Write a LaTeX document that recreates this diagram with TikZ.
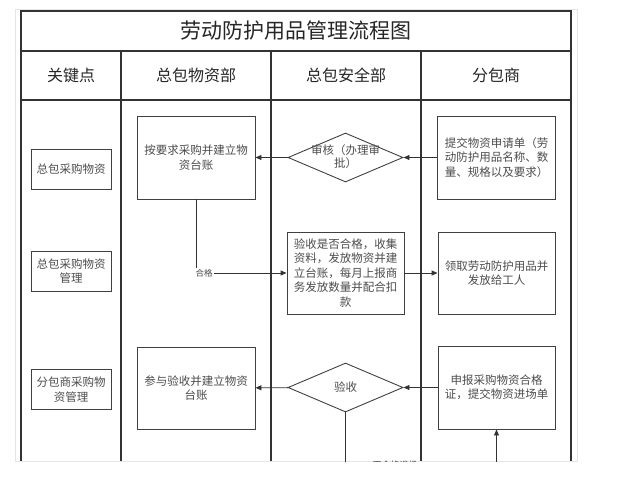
\documentclass[tikz,border=0pt]{standalone}
\usepackage{fontspec}
\setmainfont{Noto Sans CJK SC}
\usetikzlibrary{shapes.geometric,arrows.meta}

\begin{document}
\begin{tikzpicture}[x=1pt,y=-1pt]
    \tikzstyle{stepbox} = [rectangle, draw=black!75, line width=0.9pt, minimum width=118pt, minimum height=83pt, inner sep=0pt, align=center, text=black!70, font=\fontsize{11.5}{14.5}\selectfont]
    \tikzstyle{keybox} = [rectangle, draw=black!75, line width=0.9pt, minimum width=80pt, minimum height=40pt, inner sep=0pt, align=center, text=black!70, font=\fontsize{11.5}{14.5}\selectfont]
    \tikzstyle{check} = [diamond, draw=black!75, line width=0.9pt, minimum width=115pt, minimum height=49pt, inner sep=0pt]
    \tikzstyle{flow} = [draw=black!80, line width=0.9pt, -{Triangle[length=6pt,width=5pt]}]
    \tikzstyle{lane} = [draw=black!80, line width=1.1pt]
    \useasboundingbox (0,0) rectangle (620,476);
    \draw[black!10, line width=0.8pt] (15,9) rectangle (577,461);
    \begin{scope}
    \clip (0,0) rectangle (620,461);
    % swimlane table
    \draw[lane] (21,461) -- (21,11) -- (571,11) -- (571,461);
    \draw[lane] (21,51) -- (571,51);
    \draw[lane] (21,100) -- (571,100);
    \foreach \x in {121,271,421} \draw[lane] (\x,51) -- (\x,461);
    \node[font=\fontsize{21}{24}\selectfont, text=black!85] (title) at (296,31) {劳动防护用品管理流程图};
    \foreach \x/\t/\n in {71/关键点/hkey, 196/总包物资部/hmat, 346/总包安全部/hsafe, 496/分包商/hsub}
        \node[font=\fontsize{16}{19}\selectfont, text=black!85] (\n) at (\x,75.5) {\t};
    % key points
    \node[keybox] (k1) at (71,169) {总包采购物资};
    \node[keybox] (k2) at (71,271) {总包采购物资\\管理};
    \node[keybox] (k3) at (71,389.5) {分包商采购物\\资管理};
    % steps
    \node[stepbox] (buy) at (196,157.5) {按要求采购并建立物\\资台账};
    \node[stepbox] (apply) at (496.5,157.5) {提交物资申请单（劳\\动防护用品名称、数\\量、规格以及要求）};
    \node[check] (audit) at (345.5,157.5) {};
    \node[text=black!70, font=\fontsize{11.5}{13.5}\selectfont, align=center] (audittxt) at (345.5,156.5) {审核（办理审\\批）};
    \node[stepbox, minimum width=117pt, minimum height=82pt] (recv) at (345.5,273) {验收是否合格，收集\\资料，发放物资并建\\立台账，每月上报商\\务发放数量并配合扣\\款};
    \node[stepbox, minimum width=117pt, minimum height=82pt] (issue) at (496.5,273) {领取劳动防护用品并\\发放给工人};
    \node[stepbox, minimum height=82pt] (join) at (196,388) {参与验收并建立物资\\台账};
    \node[check] (accept) at (345.5,387.5) {};
    \node[text=black!70, font=\fontsize{11.5}{13.5}\selectfont] (accepttxt) at (345.5,387.5) {验收};
    \node[stepbox, minimum width=117pt] (report) at (496.5,387.5) {申报采购物资合格\\证，提交物资进场单};
    \node[text=black!70, font=\fontsize{9}{10}\selectfont] (reject) at (395,465) {不合格退场};
    \coordinate (acceptout) at (345.5,480);
    \coordinate (reportin) at (496.5,480);
    % connectors
    \draw[flow] (apply) -- (audit);
    \draw[flow] (audit) -- (buy);
    \draw[flow] (buy.south) |- node[pos=0.5, fill=white, inner sep=1pt, xshift=8pt, text=black!70, font=\fontsize{8.5}{9}\selectfont] {合格} (recv.west);
    \draw[flow] (recv) -- (issue);
    \draw[flow] (report) -- (accept);
    \draw[flow] (accept) -- (join);
    \draw[draw=black!80, line width=0.9pt] (accept.south) -- (acceptout);
    \draw[flow] (reportin) -- (report.south);
    \end{scope}
\end{tikzpicture}
\end{document}
